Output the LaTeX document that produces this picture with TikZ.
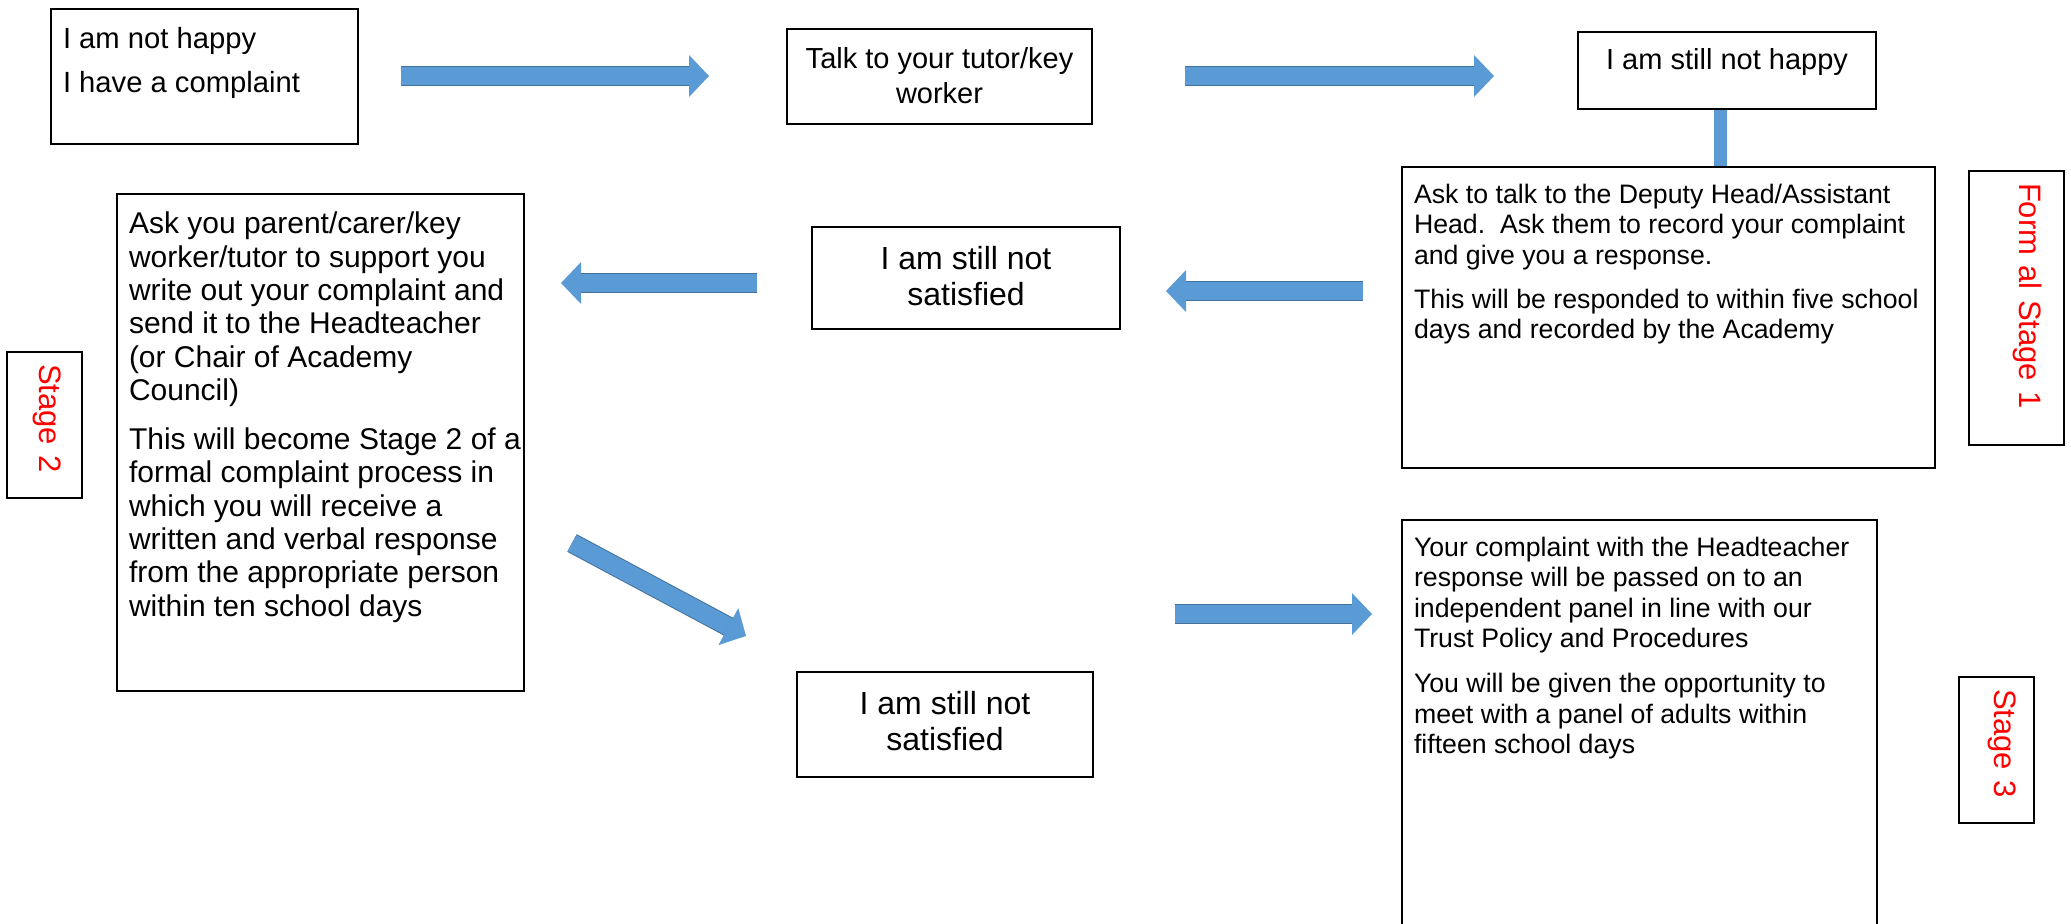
\documentclass[tikz,border=0pt]{standalone}
\usepackage{fontspec}
\setmainfont{Liberation Sans}
\usetikzlibrary{arrows.meta}

\definecolor{flowblue}{HTML}{5B9BD5}
\definecolor{flowedge}{HTML}{41719C}

% Top-aligned text inside a box of fixed size.
\newcommand{\boxtext}[3]{\parbox[t][#2][t]{#1}{\raggedright #3}}
\newcommand{\boxtextc}[3]{\parbox[t][#2][t]{#1}{\centering #3}}

\begin{document}
\begin{tikzpicture}[x=0.5pt, y=-0.5pt,
  box/.style={draw, line width=1pt, anchor=north west, inner xsep=6pt},
  stagebox/.style={draw, line width=1pt, rotate=-90, text=red, align=left,
    inner xsep=6pt, font=\fontsize{15.5}{18}\selectfont},
  flow/.style={draw=flowblue, line width=9pt,
    preaction={-, draw=flowedge, line width=10pt, shorten >=8pt},
    -{Triangle[width=21pt, length=10pt, line width=0pt]}},
  bar/.style={draw=flowblue, line width=6.5pt}]
\useasboundingbox (0,0) rectangle (2071,923);
\clip (0,0) rectangle (2071,923);

% Top row.
\node[box, inner ysep=9pt, font=\fontsize{14.6}{16.8}\selectfont] (complaint) at (50,8)
  {\boxtext{141.5pt}{49.5pt}{I am not happy\\[5.2pt] I have a complaint}};
\node[box, inner ysep=9.4pt, font=\fontsize{14.5}{17.5}\selectfont] (tutor) at (786,28)
  {\boxtextc{140.5pt}{28.7pt}{Talk to your tutor/key\\ worker}};
\node[box, inner ysep=8pt, font=\fontsize{14.5}{17.5}\selectfont] (nothappy) at (1577,31)
  {\boxtextc{137pt}{22.5pt}{I am still not happy}};

% Stage 1.
\node[box, inner ysep=8.4pt, font=\fontsize{13.35}{15.25}\selectfont] (deputy) at (1401,166)
  {\boxtext{254.5pt}{133.7pt}{Ask to talk to the Deputy Head/Assistant\\
   Head.\ \ Ask them to record your complaint\\
   and give you a response.\\[6.75pt]
   This will be responded to within five school\\
   days and recorded by the Academy}};
\node[box, inner ysep=9.5pt, font=\fontsize{16}{18}\selectfont] (satisfiedA) at (811,226)
  {\boxtextc{142pt}{32pt}{I am still not\\ satisfied}};

% Stage 2.
\node[box, inner ysep=9pt, font=\fontsize{15}{16.7}\selectfont] (support) at (116,193)
  {\boxtext{191.5pt}{230.5pt}{Ask you parent/carer/key\\
   worker/tutor to support you\\
   write out your complaint and\\
   send it to the Headteacher\\
   (or Chair of Academy\\
   Council)\\[7.6pt]
   \mbox{This will become Stage 2 of a}\\
   formal complaint process in\\
   which you will receive a\\
   written and verbal response\\
   from the appropriate person\\
   within ten school days}};
\node[box, inner ysep=9.5pt, font=\fontsize{16}{18}\selectfont] (satisfiedB) at (796,671)
  {\boxtextc{136pt}{33.5pt}{I am still not\\ satisfied}};

% Stage 3.
\node[box, inner ysep=8.4pt, font=\fontsize{13.35}{15.25}\selectfont] (panel) at (1401,519)
  {\boxtext{225.5pt}{198.7pt}{Your complaint with the Headteacher\\
   response will be passed on to an\\
   independent panel in line with our\\
   Trust Policy and Procedures\\[7.25pt]
   You will be given the opportunity to\\
   meet with a panel of adults within\\
   fifteen school days}};

% Stage labels.
\node[stagebox, text width=61pt, minimum height=37.5pt, text depth=6pt] (stagetwo) at (44.5,425) {Stage 2};
\node[stagebox, text width=125pt, minimum height=47.5pt, text depth=14pt] (stageone) at (2016.5,308) {Form al Stage 1};
\node[stagebox, text width=61pt, minimum height=37.5pt, text depth=9pt] (stagethree) at (1996.5,750) {Stage 3};

% Arrow ends.
\coordinate (a1s) at (401,76);
\coordinate (a1e) at (709,76);
\coordinate (a2s) at (1185,76);
\coordinate (a2e) at (1494,76);
\coordinate (a3s) at (1363,291);
\coordinate (a3e) at (1166,291);
\coordinate (a4s) at (757,283);
\coordinate (a4e) at (561,283);
\coordinate (a5s) at (572,543);
\coordinate (a5e) at (746,636);
\coordinate (a6s) at (1175,614);
\coordinate (a6e) at (1372,614);

% Arrows.
\draw[flow] (a1s) -- (a1e);
\draw[flow] (a2s) -- (a2e);
\draw[bar] ([xshift=-3.5pt]nothappy.south) -- ([xshift=-3.5pt]nothappy.south |- deputy.north);
\draw[flow] (a3s) -- (a3e);
\draw[flow] (a4s) -- (a4e);
\draw[flow] (a5s) -- (a5e);
\draw[flow] (a6s) -- (a6e);
\end{tikzpicture}
\end{document}
